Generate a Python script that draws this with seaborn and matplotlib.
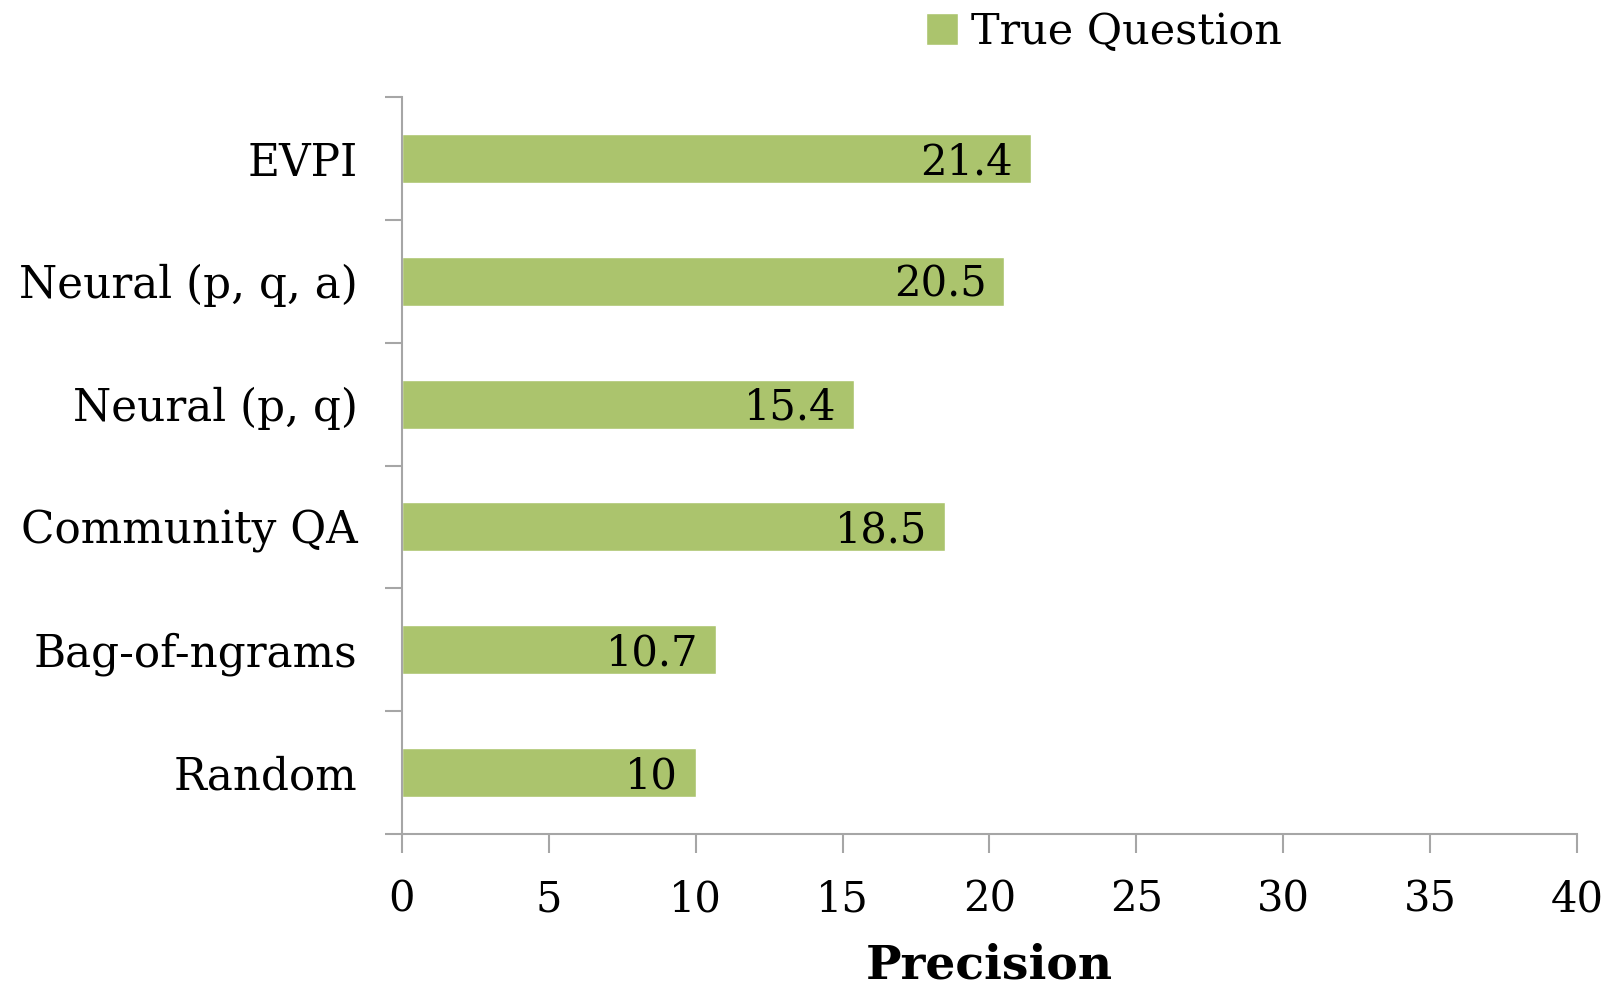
import matplotlib
matplotlib.use("Agg")
import matplotlib.pyplot as plt
import seaborn as sns
import pandas as pd
from matplotlib.ticker import FixedLocator, MultipleLocator

methods = ["EVPI", "Neural (p, q, a)", "Neural (p, q)", "Community QA", "Bag-of-ngrams", "Random"]
precision = [21.4, 20.5, 15.4, 18.5, 10.7, 10]
series_name = "True Question"

df = pd.DataFrame({"Method": methods, "Precision": precision, "Series": series_name})

sns.set_theme(style="white")
plt.rcParams["font.family"] = ["DejaVu Serif"]
plt.rcParams["text.color"] = "black"
plt.rcParams["axes.labelcolor"] = "black"
plt.rcParams["xtick.labelcolor"] = "black"
plt.rcParams["ytick.labelcolor"] = "black"

bar_color = "#ABC46D"
axis_gray = "#A6A6A6"

fig = plt.figure(figsize=(16.08, 9.9), dpi=100)
ax = fig.add_axes([402 / 1608, 1 - 834 / 990, (1577 - 402) / 1608, (834 - 97) / 990])

sns.barplot(data=df, x="Precision", y="Method", hue="Series", palette=[bar_color],
            orient="h", width=0.4, ax=ax, saturation=1, legend=True)

ax.set_xlim(0, 40)
ax.set_ylim(len(methods) - 0.5, -0.5)
ax.xaxis.set_major_locator(MultipleLocator(5))

# value labels inside the bar ends
for i, v in enumerate(precision):
    ax.text(v - 0.6, i + 0.03, f"{v:g}", ha="right", va="center", fontsize=30, color="black")

for s in ["top", "right"]:
    ax.spines[s].set_visible(False)
for s in ["left", "bottom"]:
    ax.spines[s].set_color(axis_gray)
    ax.spines[s].set_linewidth(1.5)

ax.tick_params(axis="x", which="major", direction="out", length=14, width=1.5,
               color=axis_gray, labelsize=30, pad=18, bottom=True)
ax.tick_params(axis="y", which="major", length=0, labelsize=31.5, pad=32)
ax.yaxis.set_minor_locator(FixedLocator([k - 0.5 for k in range(len(methods) + 1)]))
ax.tick_params(axis="y", which="minor", direction="out", length=12, width=1.5,
               color=axis_gray, left=True)

ax.set_ylabel("")
ax.set_xlabel("Precision", fontsize=34, fontweight="bold", labelpad=16)

leg = ax.legend(loc="upper left", bbox_to_anchor=(0.431, 1.14), frameon=False,
                fontsize=31, handlelength=0.75, handleheight=0.75, handletextpad=0.3,
                borderaxespad=0)
for t in leg.get_texts():
    t.set_color("black")

fig.savefig("out.png", dpi=100, facecolor="white")
